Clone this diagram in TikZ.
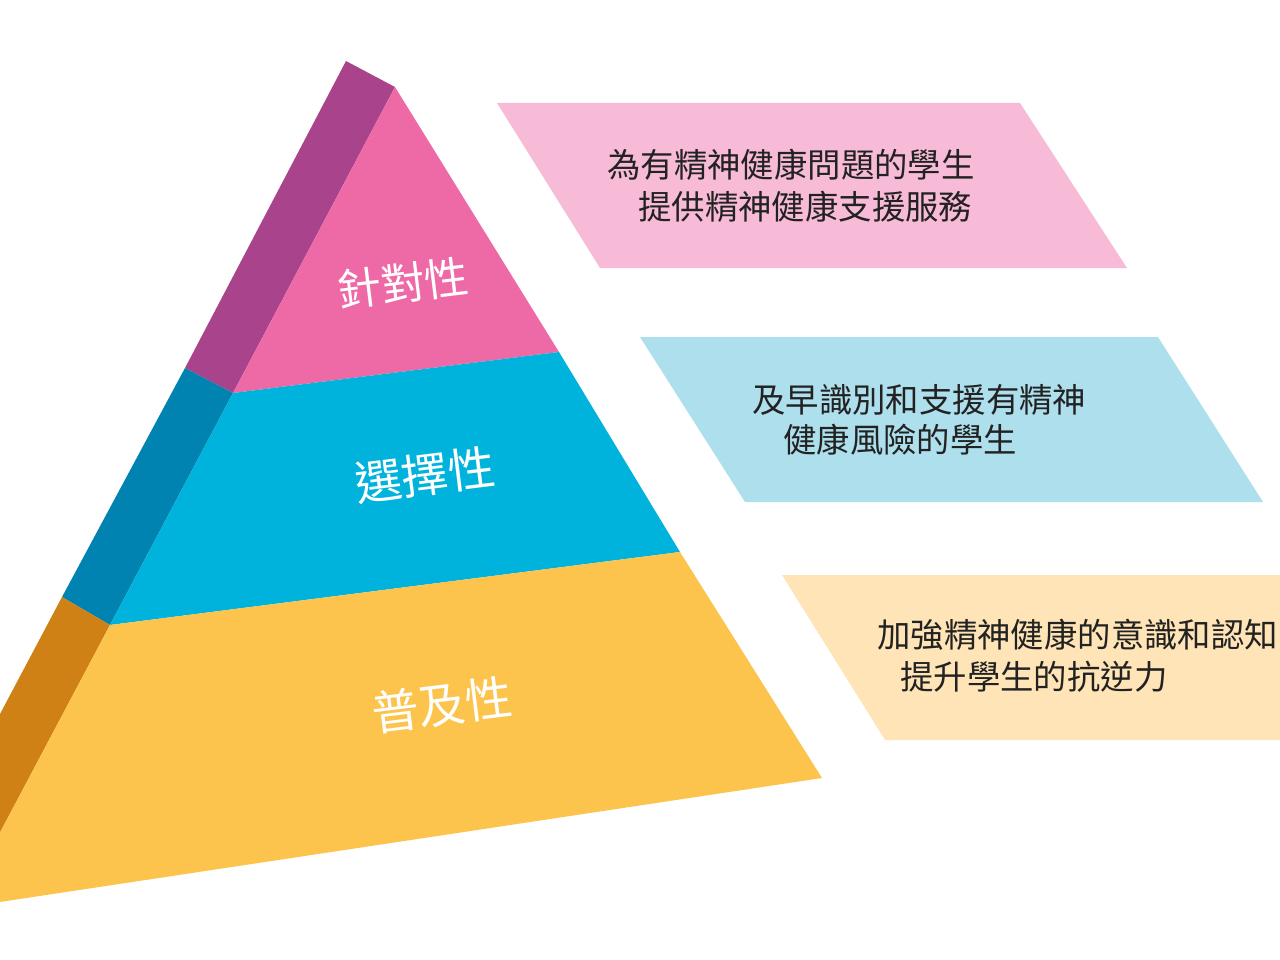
\documentclass[tikz,border=0pt]{standalone}
\usepackage{fontspec}
\newfontfamily\cjk{Noto Sans CJK TC}
\definecolor{pinkF}{HTML}{EE6AA7}
\definecolor{pinkS}{HTML}{A9448C}
\definecolor{blueF}{HTML}{00B3DC}
\definecolor{blueS}{HTML}{0083B0}
\definecolor{oranF}{HTML}{FCC44D}
\definecolor{oranS}{HTML}{CF8116}
\definecolor{pinkL}{HTML}{F7BBD8}
\definecolor{blueL}{HTML}{AEDFEC}
\definecolor{oranL}{HTML}{FEE4B7}
\definecolor{txt}{HTML}{222222}
\tikzset{
  lvl/.style={text=white, font=\cjk\fontsize{44}{50}\selectfont, rotate=7, inner sep=0pt},
  lvlb/.style={lvl, font=\cjk\fontsize{47}{52}\selectfont},
  desc/.style={text=txt, font=\cjk\fontsize{33.4}{40}\selectfont, anchor=west, inner sep=0pt},
}
\begin{document}
\begin{tikzpicture}[x=1pt,y=-1pt]
\useasboundingbox (0,0) rectangle (1280,960);
\clip (0,0) rectangle (1280,960);
% pyramid front face corners
\coordinate (A) at (395,87);
\coordinate (P1) at (233,393);
\coordinate (P2) at (559,352);
\coordinate (B1) at (110,625);
\coordinate (B2) at (680,552);
\coordinate (C1) at (-40,908);
\coordinate (C2) at (822,778);
% side back corners
\coordinate (As) at (346,61);
\coordinate (P1s) at (185,368);
\coordinate (B1s) at (62,597);
\coordinate (C1s) at (-89,882);
% side faces
\fill[pinkS] (As) -- (A) -- (P1) -- (P1s) -- cycle;
\fill[blueS] (P1s) -- (P1) -- (B1) -- (B1s) -- cycle;
\fill[oranS] (B1s) -- (B1) -- (C1) -- (C1s) -- cycle;
% front faces
\fill[pinkF] (A) -- (P2) -- (P1) -- cycle;
\fill[blueF] (P1) -- (P2) -- (B2) -- (B1) -- cycle;
\fill[oranF] (B1) -- (B2) -- (C2) -- (C1) -- cycle;
% labels
\node[lvl] (l1) at (403,283) {針對性};
\node[lvlb] (l2) at (425,475) {選擇性};
\node[lvlb] (l3) at (442,705) {普及性};
% description boxes
\fill[pinkL] (497,103) -- (1020,103) -- (1127,268) -- (600,268) -- cycle;
\fill[blueL] (640,337) -- (1158,337) -- (1263,502) -- (745,502) -- cycle;
\fill[oranL] (782,575) -- (1300,575) -- (1300,740) -- (885,740) -- cycle;
\node[desc] (d1a) at (607,165) {為有精神健康問題的學生};
\node[desc] (d1b) at (638,207) {提供精神健康支援服務};
\node[desc] (d2a) at (752,400) {及早識別和支援有精神};
\node[desc] (d2b) at (783,440) {健康風險的學生};
\node[desc] (d3a) at (877,635) {加強精神健康的意識和認知};
\node[desc] (d3b) at (900,677) {提升學生的抗逆力};
\end{tikzpicture}
\end{document}
